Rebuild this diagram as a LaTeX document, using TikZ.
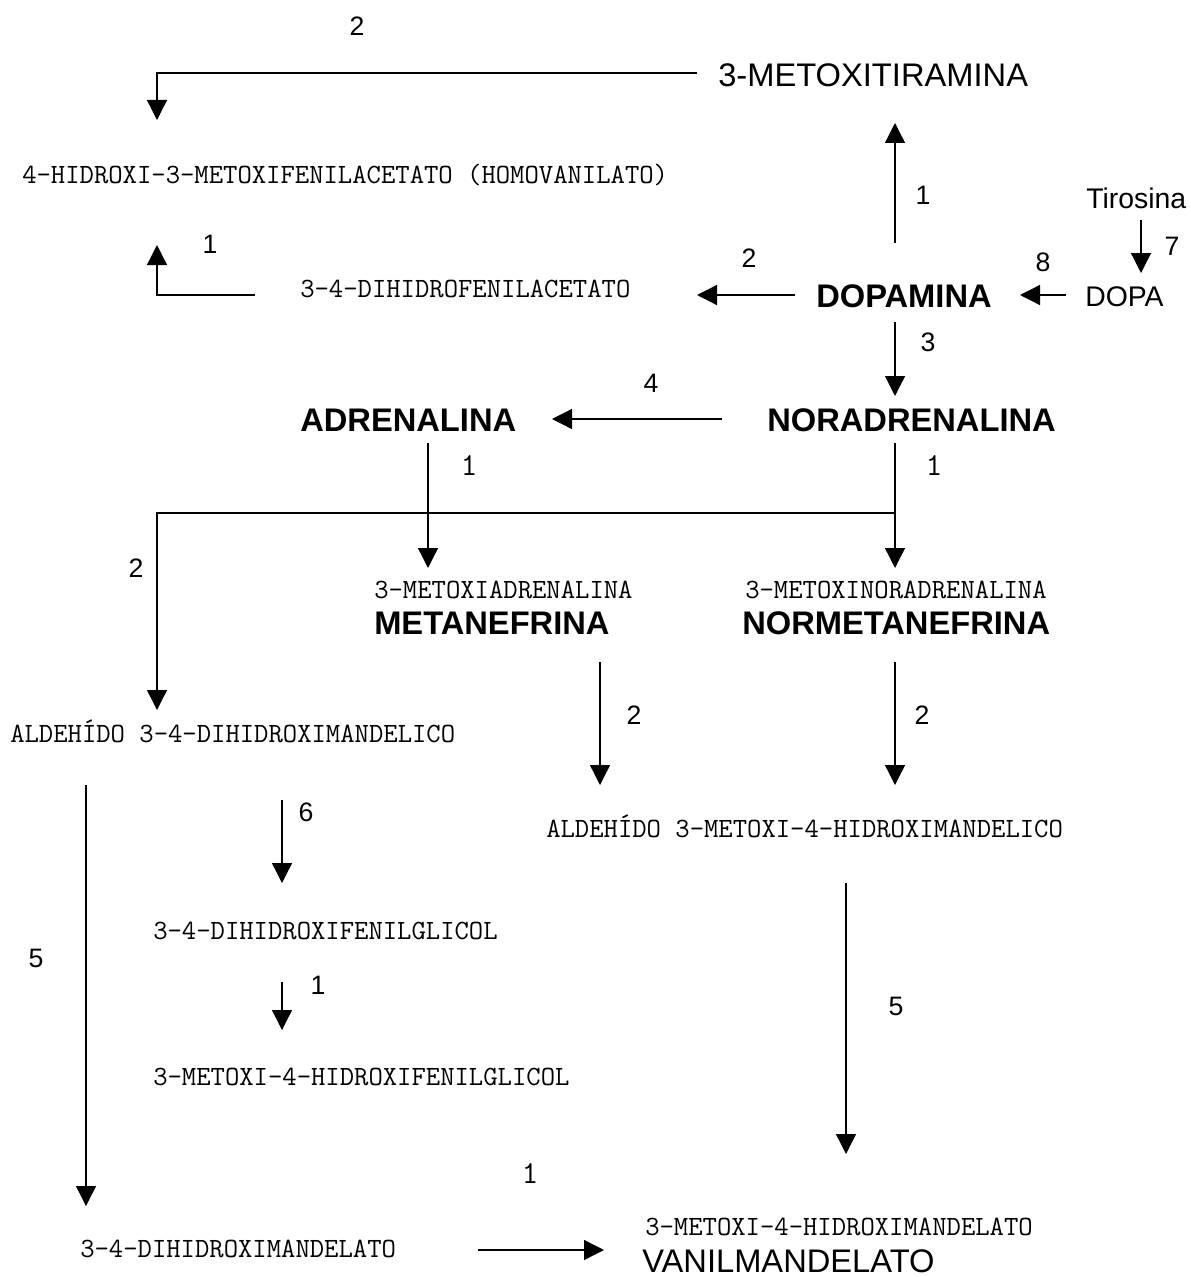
\documentclass[tikz,border=0pt]{standalone}
\usepackage{fontspec}
\setmainfont{Liberation Sans}
\usetikzlibrary{arrows.meta}
\tikzset{
 mono/.style={font=\ttfamily\fontsize{20.9}{22}\selectfont, inner sep=0, anchor=base west},
 big/.style={font=\fontsize{24.5}{28}\selectfont, inner sep=0, anchor=base west},
 bigb/.style={font=\bfseries\fontsize{24.5}{28}\selectfont, inner sep=0, anchor=base west},
 mid/.style={font=\fontsize{21.3}{24}\selectfont, inner sep=0, anchor=base west},
 num/.style={font=\fontsize{20}{24}\selectfont, inner sep=0},
 monum/.style={font=\ttfamily\fontsize{24}{26}\selectfont, inner sep=0},
 arr/.style={line width=1pt, -{Triangle[length=15pt,width=15pt]}},
}
\begin{document}
\begin{tikzpicture}[x=0.75pt,y=-0.75pt]
\useasboundingbox (0,0) rectangle (1190,1277);
% texts
\node[big]  (mtir) at (718,87) {3-METOXITIRAMINA};
\node[mono] (hva)  at (22,183) {4-HIDROXI-3-METOXIFENILACETATO (HOMOVANILATO)};
\node[mono] (dopac) at (300,297) {3-4-DIHIDROFENILACETATO};
\node[bigb] (dop) at (816,307) {DOPAMINA};
\node[mid]  (dopa) at (1085,306) {DOPA};
\node[mid]  (tir) at (1086,208) {Tirosina};
\node[bigb] (nor) at (767,431) {NORADRENALINA};
\node[bigb] (adr) at (300,431) {ADRENALINA};
\node[mono] (mad) at (374,598) {3-METOXIADRENALINA};
\node[bigb] (met) at (374,634) {METANEFRINA};
\node[mono] (mnad) at (745,598) {3-METOXINORADRENALINA};
\node[bigb] (nmet) at (742,634) {NORMETANEFRINA};
\node[mono] (ald1) at (10,742) {ALDEHÍDO 3-4-DIHIDROXIMANDELICO};
\node[mono] (ald2) at (546,837) {ALDEHÍDO 3-METOXI-4-HIDROXIMANDELICO};
\node[mono] (dhpg) at (153,939) {3-4-DIHIDROXIFENILGLICOL};
\node[mono] (mhpg) at (153,1085) {3-METOXI-4-HIDROXIFENILGLICOL};
\node[mono] (dhma) at (80,1257) {3-4-DIHIDROXIMANDELATO};
\node[mono] (mhma) at (645,1235) {3-METOXI-4-HIDROXIMANDELATO};
\node[big]  (vma) at (642,1272) {VANILMANDELATO};
% labels
\node[num] (l1) at (357,26) {2};
\node[num] (l2) at (923,195) {1};
\node[num] (l3) at (210,244) {1};
\node[num] (l4) at (749,258) {2};
\node[num] (l5) at (1043,262) {8};
\node[num] (l6) at (1172,246) {7};
\node[num] (l7) at (928,342) {3};
\node[num] (l8) at (651,383) {4};
\node[monum] (l9) at (469,466) {1};
\node[monum] (l10) at (934,466) {1};
\node[num] (l11) at (136,568) {2};
\node[num] (l12) at (634,715) {2};
\node[num] (l13) at (922,715) {2};
\node[num] (l14) at (306,812) {6};
\node[num] (l15) at (36,958) {5};
\node[num] (l16) at (318,985) {1};
\node[num] (l17) at (896,1006) {5};
\node[monum] (l18) at (530,1174) {1};
% coordinates
\coordinate (a1s) at (697,73);   \coordinate (a1c) at (157,73);   \coordinate (a1e) at (157,120);
\coordinate (a2s) at (895,243);  \coordinate (a2e) at (895,123);
\coordinate (a3s) at (795,295);  \coordinate (a3e) at (697,295);
\coordinate (a4s) at (1066,295); \coordinate (a4e) at (1020,295);
\coordinate (a5s) at (1141,220); \coordinate (a5e) at (1141,273);
\coordinate (a6s) at (895,322);  \coordinate (a6e) at (895,396);
\coordinate (a7s) at (722,419);  \coordinate (a7e) at (552,419);
\coordinate (a8s) at (428,443);  \coordinate (a8e) at (428,568);
\coordinate (a9s) at (895,443);  \coordinate (a9e) at (895,568);
\coordinate (brs) at (895,513);  \coordinate (brc) at (157,513);  \coordinate (bre) at (157,710);
\coordinate (b1s) at (255,295);  \coordinate (b1c) at (157,295);  \coordinate (b1e) at (157,245);
\coordinate (c1s) at (600,662);  \coordinate (c1e) at (600,785);
\coordinate (c2s) at (895,662);  \coordinate (c2e) at (895,785);
\coordinate (c3s) at (282,800);  \coordinate (c3e) at (282,883);
\coordinate (c4s) at (86,785);   \coordinate (c4e) at (86,1206);
\coordinate (c5s) at (282,982);  \coordinate (c5e) at (282,1030);
\coordinate (c6s) at (846,883);  \coordinate (c6e) at (846,1154);
\coordinate (c7s) at (478,1250); \coordinate (c7e) at (604,1250);
% arrows
\draw[arr] (a1s) -- (a1c) -- (a1e);
\draw[arr] (a2s) -- (a2e);
\draw[arr] (a3s) -- (a3e);
\draw[arr] (a4s) -- (a4e);
\draw[arr] (a5s) -- (a5e);
\draw[arr] (a6s) -- (a6e);
\draw[arr] (a7s) -- (a7e);
\draw[arr] (a8s) -- (a8e);
\draw[arr] (a9s) -- (a9e);
\draw[arr] (brs) -- (brc) -- (bre);
\draw[arr] (b1s) -- (b1c) -- (b1e);
\draw[arr] (c1s) -- (c1e);
\draw[arr] (c2s) -- (c2e);
\draw[arr] (c3s) -- (c3e);
\draw[arr] (c4s) -- (c4e);
\draw[arr] (c5s) -- (c5e);
\draw[arr] (c6s) -- (c6e);
\draw[arr] (c7s) -- (c7e);
\end{tikzpicture}
\end{document}
